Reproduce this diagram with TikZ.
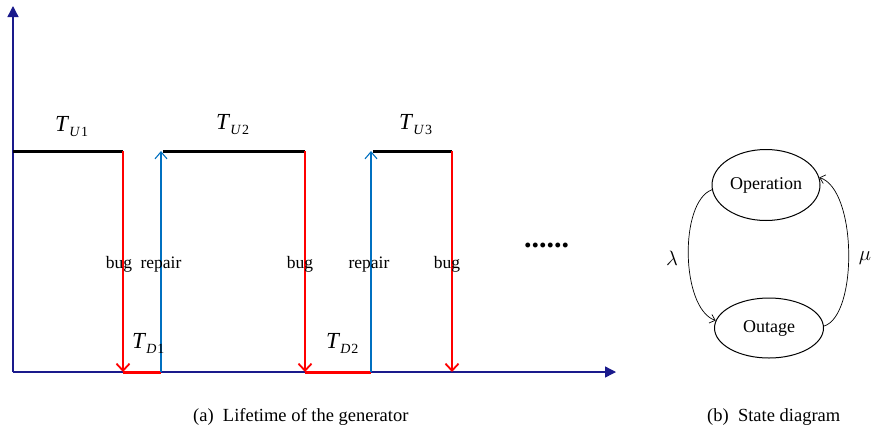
\documentclass[tikz,border=0pt]{standalone}
\usepackage{fontspec}
\setmainfont{Liberation Serif}
\usetikzlibrary{arrows.meta,shapes.geometric}

\definecolor{axisblue}{RGB}{26,26,140}
\definecolor{repairblue}{RGB}{0,112,192}

% lifetime symbol T with a subscript
\newcommand{\lifet}[2]{{\fontsize{23}{23}\selectfont\textit{T}}\raisebox{-5pt}{\fontsize{14}{14}\selectfont\textit{#1}\kern1pt#2}}

\begin{document}
\begin{tikzpicture}[x=1pt, y=-1pt,
  axis/.style={axisblue, line width=1.4pt, -{Triangle[length=11pt,width=11pt]}},
  uplevel/.style={line width=3pt},
  downlevel/.style={red, line width=3pt},
  bugarrow/.style={red, line width=1.8pt, -{Straight Barb[length=7pt,width=13pt]}},
  repairarrow/.style={repairblue, line width=1.1pt, -{Straight Barb[length=7pt,width=12pt]}},
  lbl/.style={font=\fontsize{17.5}{17.5}\selectfont, inner sep=0pt},
  state/.style={draw, ellipse, line width=1pt, inner sep=0pt, font=\fontsize{18}{18}\selectfont},
  trans/.style={line width=0.7pt, -{Straight Barb[length=5pt,width=9pt]}}]
  \useasboundingbox (0,0) rectangle (872,432);

  % axes
  \coordinate (o) at (13,372);
  \coordinate (ytop) at (13,6);
  \coordinate (xend) at (616,372);
  \draw[axis] (o) -- (ytop);
  \draw[axis] (o) -- (xend);

  % up and down times
  \coordinate (u1) at (13,151);
  \coordinate (f1) at (123,151);
  \coordinate (f1b) at (123,372);
  \coordinate (r1b) at (161,372);
  \coordinate (r1) at (161,151);
  \coordinate (u2) at (163,151);
  \coordinate (f2) at (305,151);
  \coordinate (f2b) at (305,372);
  \coordinate (r2b) at (371,372);
  \coordinate (r2) at (371,151);
  \coordinate (u3) at (373,151);
  \coordinate (f3) at (452,151);
  \coordinate (f3b) at (452,372);
  \draw[uplevel] (u1) -- (f1);
  \draw[uplevel] (u2) -- (f2);
  \draw[uplevel] (u3) -- (f3);
  \draw[downlevel] (f1b) -- (r1b);
  \draw[downlevel] (f2b) -- (r2b);
  \draw[bugarrow] (f1) -- (f1b);
  \draw[bugarrow] (f2) -- (f2b);
  \draw[bugarrow] (f3) -- (f3b);
  \draw[repairarrow] (r1b) -- (r1);
  \draw[repairarrow] (r2b) -- (r2);

  % labels
  \node[lbl, anchor=base west] (tu1) at (55,131) {\lifet{U}{1}};
  \node[lbl, anchor=base west] (tu2) at (216,129) {\lifet{U}{2}};
  \node[lbl, anchor=base west] (tu3) at (399,129) {\lifet{U}{3}};
  \node[lbl, anchor=base west] (td1) at (132,348) {\lifet{D}{1}};
  \node[lbl, anchor=base west] (td2) at (326,348) {\lifet{D}{2}};
  \node[lbl, anchor=base] (bug1) at (119,268) {bug};
  \node[lbl, anchor=base] (rep1) at (161,268) {repair};
  \node[lbl, anchor=base] (bug2) at (300,268) {bug};
  \node[lbl, anchor=base] (rep2) at (369,268) {repair};
  \node[lbl, anchor=base] (bug3) at (447,268) {bug};
  \node[lbl, font=\fontsize{30}{30}\bfseries\selectfont, anchor=base west] (more) at (524,247) {......};

  % state diagram
  \node[state, minimum width=108pt, minimum height=71pt] (op) at (766,185) {Operation};
  \node[state, minimum width=109pt, minimum height=60pt] (out) at (769,328) {Outage};
  \draw[trans] (op.185) .. controls +(-33,12) and +(-35,-12) .. (out.172);
  \draw[trans] (out.2) .. controls +(34,-10) and +(38,12) .. (op.8);
  \node[lbl, font=\fontsize{20}{20}\selectfont] (lam) at (672,258) {$\lambda$};
  \node[lbl, font=\fontsize{20}{20}\selectfont] (mu) at (865,258) {$\mu$};

  % captions
  \node[lbl, font=\fontsize{18.5}{18.5}\selectfont, anchor=west] (capa) at (193,417) {(a)\enspace Lifetime of the generator};
  \node[lbl, font=\fontsize{18.5}{18.5}\selectfont, anchor=west] (capb) at (707,417) {(b)\enspace State diagram};
\end{tikzpicture}
\end{document}
